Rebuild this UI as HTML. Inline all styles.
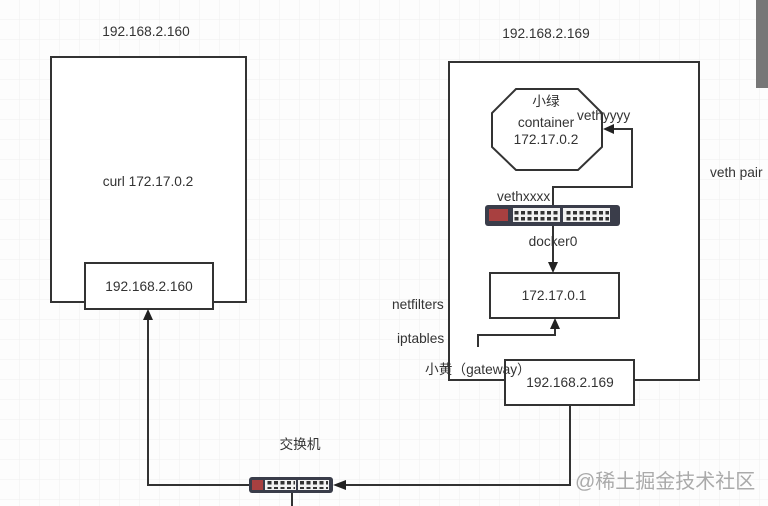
<!DOCTYPE html>
<html><head><meta charset="utf-8"><style>
html,body{margin:0;padding:0;background:#fdfdfd;}
svg{display:block;}
text{font-family:"Liberation Sans","Noto Sans CJK SC",sans-serif;font-size:13.7px;fill:#333;}
</style></head><body>
<svg width="768" height="506" viewBox="0 0 768 506" xmlns="http://www.w3.org/2000/svg">
<defs>
<pattern id="g" width="20" height="20" patternUnits="userSpaceOnUse">
<path d="M20 0V20M0 20H20" stroke="#f0f0f0" stroke-width="1" fill="none"/>
</pattern>
<pattern id="p" width="6.5" height="6" patternUnits="userSpaceOnUse">
<rect x="1" y="1" width="4" height="3.5" fill="#333"/>
</pattern>
</defs>
<rect width="768" height="506" fill="#fdfdfd"/>
<rect width="768" height="506" fill="url(#g)"/>
<rect x="756" y="0" width="12" height="88" fill="#777"/>

<g stroke="#333" stroke-width="2" fill="none">
<rect x="51" y="57" width="195" height="245" fill="#fff"/>
<rect x="85" y="263" width="128" height="46" fill="#fff"/>
<rect x="449" y="62" width="250" height="318" fill="#fff"/>
<polygon points="516,89 578,89 602,113 602,147 578,170 516,170 492,147 492,113" fill="#fff"/>
<rect x="490" y="273" width="129" height="45" fill="#fff"/>
<rect x="505" y="360" width="129" height="45" fill="#fff"/>
<polyline points="553,205 553,187 632,187 632,129 612,129"/>
<polyline points="553,226 553,264"/>
<polyline points="478,347 478,335 555,335 555,328"/>
<polyline points="570,405 570,485 345,485"/>
<polyline points="249,485 148,485 148,320"/>
<polyline points="292,493 292,506"/>
</g>
<g fill="#222">
<polygon points="603,129 614,124 614,134"/>
<polygon points="553,273 548,262 558,262"/>
<polygon points="555,318 550,329 560,329"/>
<polygon points="333,485 346,480 346,490"/>
<polygon points="148,309 143,320 153,320"/>
</g>

<rect x="485" y="205" width="135" height="21" rx="3" fill="#3a3d4a"/>
<rect x="489" y="209" width="19" height="12" fill="#a84040"/>
<rect x="513" y="208" width="47" height="14" fill="#f2f2f2"/>
<rect x="563" y="208" width="47" height="14" fill="#f2f2f2"/>
<rect x="514" y="209" width="45" height="12" fill="url(#p)"/>
<rect x="564" y="209" width="45" height="12" fill="url(#p)"/>

<rect x="249" y="477" width="84" height="16" rx="3" fill="#3a3d4a"/>
<rect x="252" y="480" width="11" height="10" fill="#a84040"/>
<rect x="265" y="480" width="31" height="10" fill="#f2f2f2"/>
<rect x="298" y="480" width="31" height="10" fill="#f2f2f2"/>
<rect x="266" y="481" width="29" height="8" fill="url(#p)"/>
<rect x="299" y="481" width="29" height="8" fill="url(#p)"/>

<text x="146" y="36" text-anchor="middle">192.168.2.160</text>
<text x="546" y="38" text-anchor="middle">192.168.2.169</text>
<text x="148" y="186" text-anchor="middle">curl 172.17.0.2</text>
<text x="149" y="291" text-anchor="middle">192.168.2.160</text>
<text x="546" y="106" text-anchor="middle">小绿</text>
<text x="546" y="127" text-anchor="middle">container</text>
<text x="546" y="144" text-anchor="middle">172.17.0.2</text>
<text x="577" y="120">vethyyyy</text>
<text x="497" y="201">vethxxxx</text>
<text x="553" y="246" text-anchor="middle">docker0</text>
<text x="554" y="300" text-anchor="middle">172.17.0.1</text>
<text x="392" y="309">netfilters</text>
<text x="397" y="343">iptables</text>
<text x="425" y="374">小黄（gateway）</text>
<text x="570" y="387" text-anchor="middle">192.168.2.169</text>
<text x="710" y="177">veth pair</text>
<text x="300" y="449" text-anchor="middle">交换机</text>
<text x="575" y="488" style="font-size:20px;fill:#aaa">@稀土掘金技术社区</text>
</svg>
</body></html>
